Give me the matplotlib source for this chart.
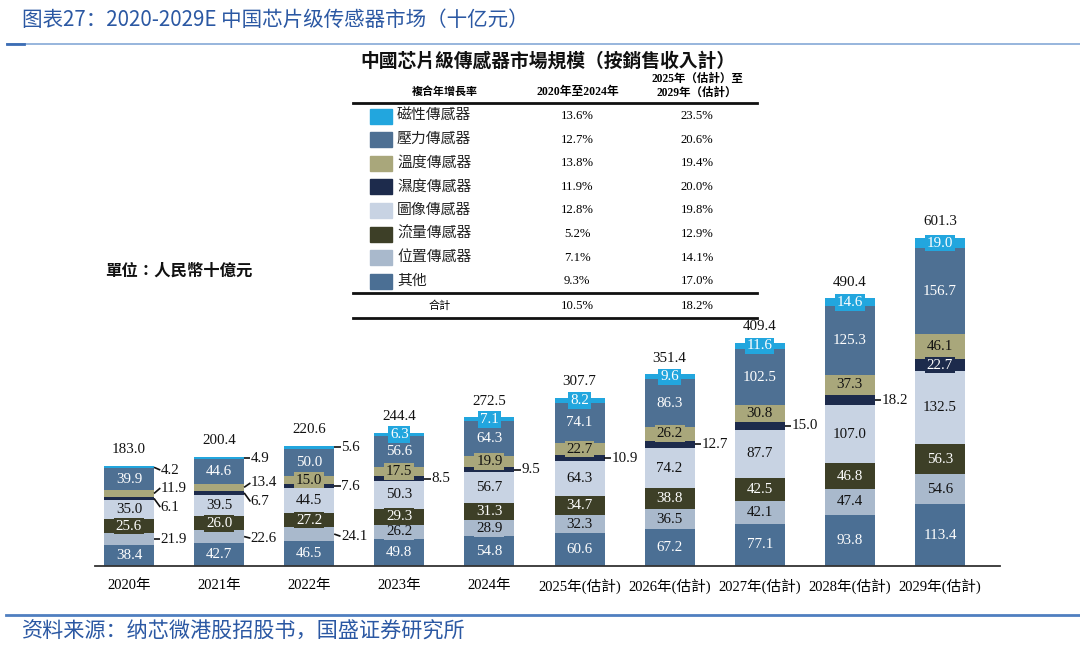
import matplotlib
matplotlib.use("Agg")
import matplotlib.pyplot as plt
import numpy as np
from matplotlib.patches import Rectangle

plt.rcParams['font.family'] = ['Liberation Serif', 'Noto Sans CJK TC']

# ---- data -------------------------------------------------------------
YEARS = ["2020年", "2021年", "2022年", "2023年", "2024年",
         "2025年(估計)", "2026年(估計)", "2027年(估計)", "2028年(估計)", "2029年(估計)"]
# stacked bottom -> top
SERIES = ["其他", "位置傳感器", "流量傳感器", "圖像傳感器",
          "濕度傳感器", "溫度傳感器", "壓力傳感器", "磁性傳感器"]
other = [38.4, 42.7, 46.5, 49.8, 54.8, 60.6, 67.2, 77.1, 93.8, 113.4]
position = [21.9, 22.6, 24.1, 26.2, 28.9, 32.3, 36.5, 42.1, 47.4, 54.6]
flow = [25.6, 26.0, 27.2, 29.3, 31.3, 34.7, 38.8, 42.5, 46.8, 56.3]
image = [35.0, 39.5, 44.5, 50.3, 56.7, 64.3, 74.2, 87.7, 107.0, 132.5]
humidity = [6.1, 6.7, 7.6, 8.5, 9.5, 10.9, 12.7, 15.0, 18.2, 22.7]
temperature = [11.9, 13.4, 15.0, 17.5, 19.9, 22.7, 26.2, 30.8, 37.3, 46.1]
pressure = [39.9, 44.6, 50.0, 56.6, 64.3, 74.1, 86.3, 102.5, 125.3, 156.7]
magnetic = [4.2, 4.9, 5.6, 6.3, 7.1, 8.2, 9.6, 11.6, 14.6, 19.0]
TOTALS = [183.0, 200.4, 220.6, 244.4, 272.5, 307.7, 351.4, 409.4, 490.4, 601.3]

# CAGR table (table order: top -> bottom)
TABLE_NAMES = ["磁性傳感器", "壓力傳感器", "溫度傳感器", "濕度傳感器",
               "圖像傳感器", "流量傳感器", "位置傳感器", "其他"]
CAGR_2020_2024 = ["13.6%", "12.7%", "13.8%", "11.9%", "12.8%", "5.2%", "7.1%", "9.3%"]
CAGR_2025_2029 = ["23.5%", "20.6%", "19.4%", "20.0%", "19.8%", "12.9%", "14.1%", "17.0%"]
TOTAL_CAGR = ["10.5%", "18.2%"]

# ---- style --------------------------------------------------------------
COLORS = {"其他": "#4b6f94", "位置傳感器": "#a9b9cc", "流量傳感器": "#3d3f27",
          "圖像傳感器": "#c8d3e3", "濕度傳感器": "#1d2b4c", "溫度傳感器": "#a9a77b",
          "壓力傳感器": "#4e7093", "磁性傳感器": "#22a6de"}
TXT = {"其他": "white", "位置傳感器": "#111111", "流量傳感器": "white",
       "圖像傳感器": "#111111", "濕度傳感器": "white", "溫度傳感器": "#111111",
       "壓力傳感器": "white", "磁性傳感器": "white"}
BLUE = "#2b58a3"

# labels drawn outside the bar (year index, series index) and their nudges
OUTSIDE = {(0, 7), (0, 5), (0, 4), (0, 1), (1, 7), (1, 5), (1, 4), (1, 1),
           (2, 7), (2, 4), (2, 1), (3, 4), (4, 4), (5, 4), (6, 4), (7, 4), (8, 4)}
NUDGE = {(0, 5): 10, (0, 4): -16, (0, 7): -5, (1, 5): 8, (1, 4): -16,
         (1, 1): -3, (2, 1): -4}

W, H = 1080, 651
BASE, AX_TOP, AX_L, AX_R = 566, 225, 95, 1000
PX_PER_UNIT = 0.5455
PX_PER_BAR = 90.1
FIRST_X = 129

fig = plt.figure(figsize=(W / 100, H / 100), dpi=100)
ax = fig.add_axes([AX_L / W, 1 - BASE / H, (AX_R - AX_L) / W, (BASE - AX_TOP) / H])
ax.set_ylim(0, (BASE - AX_TOP) / PX_PER_UNIT)
ax.set_xlim(-(FIRST_X - AX_L) / PX_PER_BAR, (AX_R - FIRST_X) / PX_PER_BAR)

x = np.arange(len(YEARS))
width = 50 / PX_PER_BAR
stack = [other, position, flow, image, humidity, temperature, pressure, magnetic]
bottom = np.zeros(len(YEARS))
for s, (name, vals) in enumerate(zip(SERIES, stack)):
    vals = np.array(vals)
    ax.bar(x, vals, width, bottom=bottom, color=COLORS[name], edgecolor="none", zorder=2)
    for i, v in enumerate(vals):
        yc = bottom[i] + v / 2
        if (i, s) in OUTSIDE:
            xr = x[i] + width / 2
            ly = yc + NUDGE.get((i, s), 0)
            ax.plot([xr, xr + 0.07], [yc, ly], color="#111111", lw=1.2,
                    solid_capstyle="butt", zorder=3)
            ax.text(xr + 0.075, ly, f"{v:.1f}", ha="left", va="center",
                    fontsize=10.8, color="#111111", zorder=4)
        else:
            ax.text(x[i], yc, f"{v:.1f}", ha="center", va="center", fontsize=10.8,
                    color=TXT[name], zorder=4,
                    bbox=dict(boxstyle="square,pad=0.12", fc=COLORS[name], ec="none"))
    bottom += vals

for i, t in enumerate(TOTALS):
    ax.annotate(f"{t:.1f}", (x[i], bottom[i]), xytext=(0, 7), textcoords="offset points",
                ha="center", va="bottom", fontsize=10.8, color="#111111")

for sp in ["top", "left", "right"]:
    ax.spines[sp].set_visible(False)
ax.spines["bottom"].set_color("#333333")
ax.spines["bottom"].set_linewidth(1.3)
ax.set_yticks([])
ax.set_xticks(x)
ax.set_xticklabels(YEARS, fontsize=10.5)
ax.tick_params(axis="x", length=0, pad=9)
ax.patch.set_alpha(0)

# ---- overlay in pixel coordinates: table, titles ------------------------
ov = fig.add_axes([0, 0, 1, 1])
ov.set_xlim(0, W)
ov.set_ylim(H, 0)
ov.axis("off")
ov.patch.set_alpha(0)

fig.text(22 / W, 1 - 20 / H, "图表27：2020-2029E 中国芯片级传感器市场（十亿元）",
         fontsize=14.8, color=BLUE, style="italic", va="center",
         family=["Noto Sans CJK SC", "DejaVu Sans"])
ov.plot([7, W], [44, 44], color="#8fb0da", lw=1.3)
ov.plot([7, 24], [44, 44], color="#3c6db4", lw=2)
ov.plot([6, W], [615, 615], color="#4f7fc0", lw=2)
fig.text(22 / W, 1 - 632 / H, "资料来源：纳芯微港股招股书，国盛证券研究所",
         fontsize=15.2, color=BLUE, style="italic", va="center",
         family=["Noto Sans CJK SC", "DejaVu Sans"])

ov.text(548, 61, "中國芯片級傳感器市場規模（按銷售收入計）", ha="center", va="center",
        fontsize=13.5, fontweight="bold", color="#111111")
ov.text(445, 92, "複合年增長率", ha="center", va="center", fontsize=7.9, fontweight="bold")
ov.text(578, 92, "2020年至2024年", ha="center", va="center", fontsize=8.5, fontweight="bold")
ov.text(697, 79, "2025年（估計）至", ha="center", va="center", fontsize=8.3, fontweight="bold")
ov.text(697, 93, "2029年（估計）", ha="center", va="center", fontsize=8.3, fontweight="bold")
ov.plot([353, 757], [103, 103], color="#111111", lw=2)
for r, name in enumerate(TABLE_NAMES):
    y = 116 + r * 23.6
    ov.add_patch(Rectangle((370, y - 7.5), 22, 15, color=COLORS[name]))
    ov.text(397, y, name, ha="left", va="center", fontsize=10.7, color="#222222")
    ov.text(577, y, CAGR_2020_2024[r], ha="center", va="center", fontsize=9.2)
    ov.text(697, y, CAGR_2025_2029[r], ha="center", va="center", fontsize=9.2)
ov.plot([353, 757], [293, 293], color="#111111", lw=2)
ov.text(440, 306, "合計", ha="center", va="center", fontsize=8)
ov.text(577, 306, TOTAL_CAGR[0], ha="center", va="center", fontsize=9.2)
ov.text(697, 306, TOTAL_CAGR[1], ha="center", va="center", fontsize=9.2)
ov.plot([353, 757], [318, 318], color="#111111", lw=2)

ov.text(105, 272, "單位：人民幣十億元", ha="left", va="center", fontsize=11.8,
        fontweight="bold", color="#111111")

fig.savefig("out.png", dpi=100)
